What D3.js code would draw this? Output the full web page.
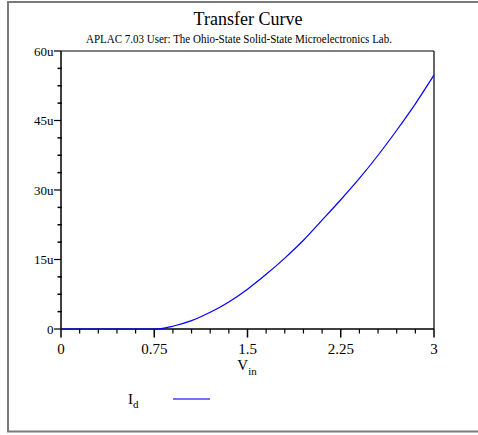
<!DOCTYPE html>
<html>
<head>
<meta charset="utf-8">
<script src="https://cdn.jsdelivr.net/npm/d3@7"></script>
<style>
  html, body { margin: 0; padding: 0; background: #fff; }
  svg { display: block; }
  text { font-family: "Liberation Serif", "Times New Roman", "DejaVu Serif", serif; }
</style>
</head>
<body>
<svg id="chart" width="478" height="435"></svg>
<script>
// Data
const vin = [0, 0.15, 0.3, 0.45, 0.6, 0.75, 0.8, 0.9, 1.05, 1.2, 1.35, 1.5, 1.65, 1.8, 1.95, 2.1, 2.25, 2.4, 2.55, 2.7, 2.85, 3.0];
const idMicro = [0, 0, 0, 0, 0, 0, 0.08, 0.6, 1.8, 3.6, 5.85, 8.6, 11.8, 15.3, 19.15, 23.5, 27.9, 32.5, 37.5, 42.9, 48.6, 54.8];
const xTicks = [0, 0.75, 1.5, 2.25, 3];
const xTickLabels = ["0", "0.75", "1.5", "2.25", "3"];
const yTicks = [0, 15, 30, 45, 60];
const yTickLabels = ["0", "15u", "30u", "45u", "60u"];
const titleText = "Transfer Curve";
const subtitleText = "APLAC 7.03 User: The Ohio-State Solid-State Microelectronics Lab.";
const seriesName = ["I", "d"];

const FONT = '"Liberation Serif", "Times New Roman", "DejaVu Serif", serif';
const svg = d3.select("#chart");

// outer border
svg.append("rect")
  .attr("x", 8).attr("y", 2).attr("width", 474).attr("height", 429.5)
  .attr("fill", "none").attr("stroke", "#7a7a7a").attr("stroke-width", 2);

const x = d3.scaleLinear().domain([0, 3]).range([61, 434]);
const y = d3.scaleLinear().domain([0, 60]).range([329, 51]);

// title
svg.append("text").attr("x", 248).attr("y", 25).attr("text-anchor", "middle")
  .attr("font-family", FONT).attr("font-size", 18).text(titleText);
svg.append("text").attr("x", 239).attr("y", 43).attr("text-anchor", "middle")
  .attr("font-family", FONT).attr("font-size", 12).attr("textLength", 306).attr("lengthAdjust", "spacingAndGlyphs")
  .text(subtitleText);

// frame top and right
svg.append("line").attr("x1", x(0)).attr("x2", x(3)).attr("y1", y(60)).attr("y2", y(60))
  .attr("stroke", "#000").attr("stroke-width", 1.2);
svg.append("line").attr("x1", x(3)).attr("x2", x(3)).attr("y1", y(60)).attr("y2", y(0))
  .attr("stroke", "#000").attr("stroke-width", 1.2);

// y axis
const yMinor = d3.range(0, 60.001, 3.75).filter(v => !yTicks.includes(v));
const yAxis = svg.append("g").attr("transform", `translate(${x(0)},0)`);
yAxis.append("line").attr("y1", y(0)).attr("y2", y(60)).attr("stroke", "#000").attr("stroke-width", 1.5);
yAxis.selectAll(".ymaj").data(yTicks).enter().append("line")
  .attr("x1", -7).attr("x2", 0).attr("y1", d => y(d)).attr("y2", d => y(d))
  .attr("stroke", "#000").attr("stroke-width", 1.2);
yAxis.selectAll(".ymin").data(yMinor).enter().append("line")
  .attr("x1", -3.5).attr("x2", 1).attr("y1", d => y(d)).attr("y2", d => y(d))
  .attr("stroke", "#000").attr("stroke-width", 1.5);
yAxis.selectAll(".ylab").data(yTicks).enter().append("text")
  .attr("x", -7.5).attr("y", d => y(d) + 4.5).attr("text-anchor", "end")
  .attr("font-family", FONT).attr("font-size", 13).text((d, i) => yTickLabels[i]);

// x axis
const xMinor = d3.range(0, 3.0001, 0.15).filter(v => !xTicks.some(t => Math.abs(t - v) < 1e-6));
const xAxis = svg.append("g").attr("transform", `translate(0,${y(0)})`);
xAxis.append("line").attr("x1", x(0)).attr("x2", x(3)).attr("stroke", "#000").attr("stroke-width", 1.5);
xAxis.selectAll(".xmaj").data(xTicks).enter().append("line")
  .attr("x1", d => x(d)).attr("x2", d => x(d)).attr("y1", 0).attr("y2", 8.5)
  .attr("stroke", "#000").attr("stroke-width", 1.5);
xAxis.selectAll(".xmin").data(xMinor).enter().append("line")
  .attr("x1", d => x(d)).attr("x2", d => x(d)).attr("y1", 0).attr("y2", 4.5)
  .attr("stroke", "#000").attr("stroke-width", 1.2);
xAxis.selectAll(".xlab").data(xTicks).enter().append("text")
  .attr("x", d => x(d)).attr("y", 25).attr("text-anchor", "middle")
  .attr("font-family", FONT).attr("font-size", 15).text((d, i) => xTickLabels[i]);

// x axis title V_in
const xt = svg.append("text").attr("x", 247).attr("y", 370).attr("text-anchor", "middle")
  .attr("font-family", FONT).attr("font-size", 15);
xt.append("tspan").text("V");
xt.append("tspan").attr("dy", 5).attr("font-size", 11).text("in");

// curve
const pts = vin.map((v, i) => [v, idMicro[i]]);
svg.append("path").datum(pts)
  .attr("fill", "none").attr("stroke", "#0000ff").attr("stroke-width", 1.2)
  .attr("d", d3.line().x(d => x(d[0])).y(d => y(d[1])).curve(d3.curveMonotoneX));

// legend
const lt = svg.append("text").attr("x", 128).attr("y", 404).attr("font-family", FONT).attr("font-size", 15);
lt.append("tspan").text(seriesName[0]);
lt.append("tspan").attr("dy", 4).attr("font-size", 11).text(seriesName[1]);
svg.append("line").attr("x1", 173).attr("x2", 210).attr("y1", 399).attr("y2", 399)
  .attr("stroke", "#4444ff").attr("stroke-width", 1.5);
</script>
</body>
</html>
